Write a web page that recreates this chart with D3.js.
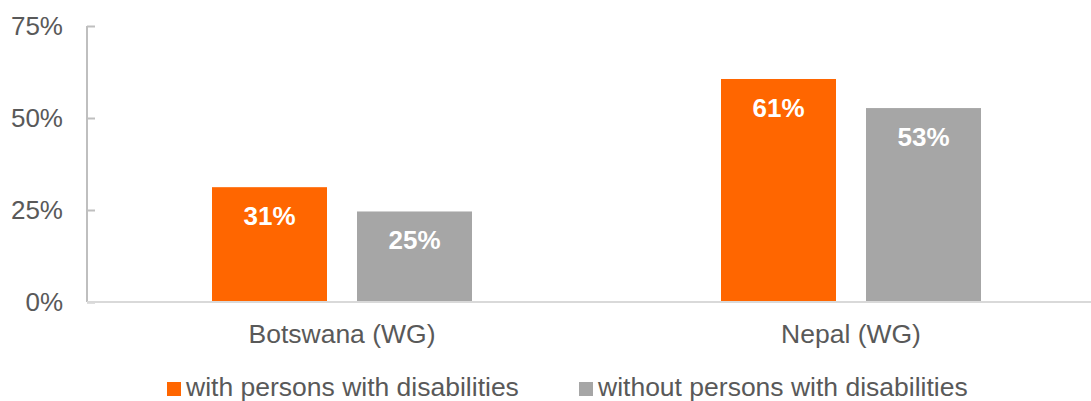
<!DOCTYPE html>
<html>
<head>
<meta charset="utf-8">
<script src="https://cdn.jsdelivr.net/npm/d3@7"></script>
<style>
  html, body { margin: 0; padding: 0; background: #fff; }
  svg { display: block; font-family: "Liberation Sans", Arial, sans-serif; }
</style>
</head>
<body>
<svg id="chart" width="1091" height="401"></svg>
<script>
const categories = ["Botswana (WG)", "Nepal (WG)"];
const seriesNames = ["with persons with disabilities", "without persons with disabilities"];
const withDisab = [0.312, 0.606];
const withoutDisab = [0.246, 0.527];
const yTicks = [0, 0.25, 0.5, 0.75];
const colors = ["#ff6600", "#a6a6a6"];

const seriesValues = [withDisab, withoutDisab];
const svg = d3.select("#chart");
const fontSize = 26.5;
const textColor = "#595959";

const y = d3.scaleLinear().domain([0, 0.75]).range([302, 26]);
const x0 = d3.scaleBand().domain(categories).range([87.5, 1105.5]);
const x1 = d3.scaleBand().domain(seriesNames)
  .range([124.5, 384.5]).paddingInner(30 / 145).paddingOuter(0);

// Y axis
const yAxis = svg.append("g").attr("transform", "translate(87,0)")
  .call(d3.axisRight(y).tickValues(yTicks).tickSize(8).tickFormat(""));
yAxis.select(".domain").attr("stroke", "#bfbfbf").attr("stroke-width", 2)
  .attr("d", `M0,${y(0.75)}V${y(0)}`);
yAxis.selectAll(".tick line").attr("stroke", "#bfbfbf").attr("stroke-width", 2);

svg.append("g").selectAll("text").data(yTicks).join("text")
  .attr("x", 63).attr("y", d => y(d)).attr("dy", "0.35em")
  .attr("text-anchor", "end").attr("font-size", 26).attr("fill", textColor)
  .text(d3.format(".0%"));

// Bars
const groups = svg.append("g").selectAll("g").data(categories).join("g")
  .attr("transform", d => `translate(${x0(d)},0)`);

groups.each(function(cat, ci) {
  const g = d3.select(this);
  seriesNames.forEach((s, si) => {
    const v = seriesValues[si][ci];
    g.append("rect")
      .attr("x", x1(s)).attr("width", x1.bandwidth())
      .attr("y", y(v)).attr("height", y(0) - y(v))
      .attr("fill", colors[si]);
    g.append("text")
      .attr("x", x1(s) + x1.bandwidth() / 2).attr("y", y(v) + 38)
      .attr("text-anchor", "middle").attr("font-size", 26)
      .attr("font-weight", "bold").attr("fill", "#fff")
      .text(d3.format(".0%")(v));
  });
});

// X axis baseline
const xAxis = svg.append("g").attr("transform", `translate(0,${y(0)})`)
  .call(d3.axisBottom(x0).tickSize(0).tickFormat(""));
xAxis.select(".domain").attr("stroke", "#d9d9d9").attr("stroke-width", 2)
  .attr("d", "M87,0H1091");

svg.append("g").selectAll("text").data(categories).join("text")
  .attr("x", d => x0(d) + x0.bandwidth() / 2).attr("y", 343)
  .attr("text-anchor", "middle").attr("font-size", fontSize).attr("fill", textColor)
  .text(d => d);

// Legend
const legendX = [167, 579];
const leg = svg.append("g").selectAll("g").data(seriesNames).join("g")
  .attr("transform", (d, i) => `translate(${legendX[i]},0)`);
leg.append("rect").attr("x", 0).attr("y", 382).attr("width", 14).attr("height", 14)
  .attr("fill", (d, i) => colors[i]);
leg.append("text").attr("x", 19).attr("y", 396)
  .attr("font-size", fontSize).attr("fill", textColor).text(d => d);
</script>
</body>
</html>
